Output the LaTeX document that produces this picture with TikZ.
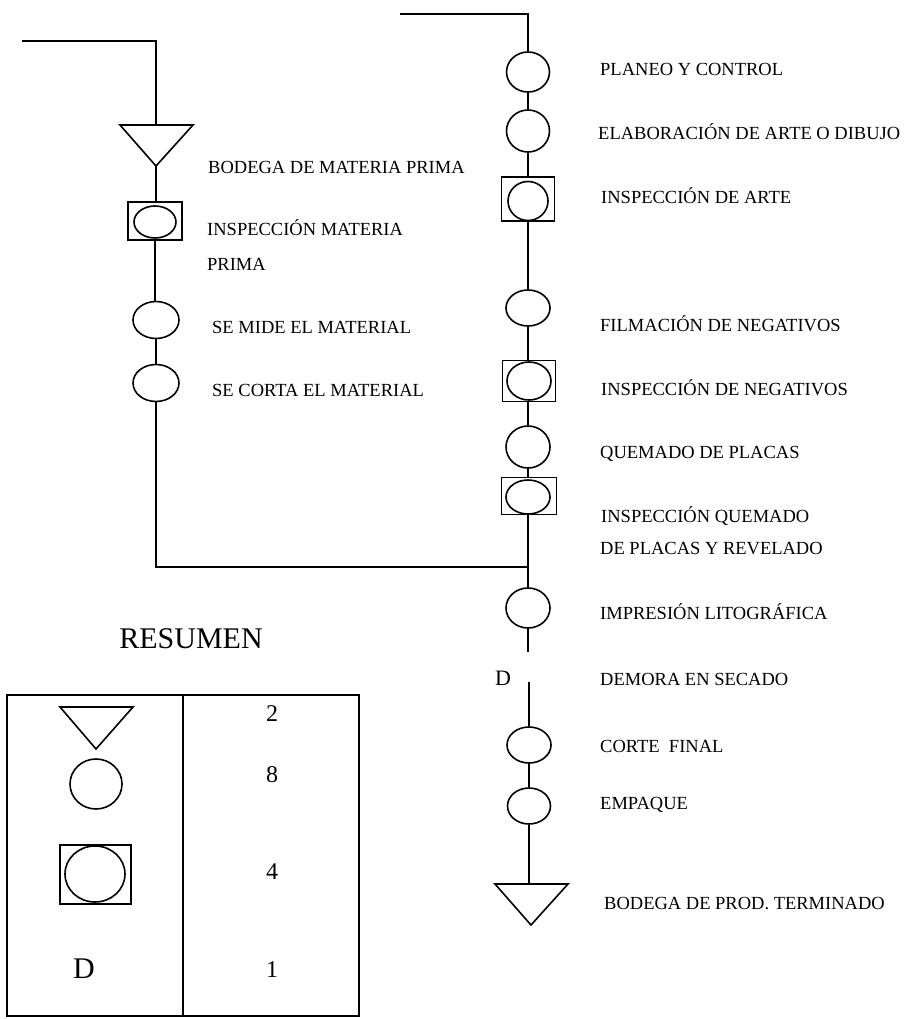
\documentclass[tikz,border=0pt]{standalone}
\usepackage{fontspec}
\setmainfont{Liberation Serif}
\usetikzlibrary{shapes.geometric}

\tikzset{
  op/.style={draw, ellipse, line width=1.6pt, minimum width=44pt, minimum height=38pt, inner sep=0pt},
  insp/.style={draw, rectangle, line width=1.6pt, inner sep=0pt},
  flow/.style={line width=1.9pt},
  shapeline/.style={line width=1.6pt, line join=miter},
  lbl/.style={anchor=base west, inner sep=0pt, font=\fontsize{18.5}{20}\selectfont},
  big/.style={inner sep=0pt, font=\fontsize{30}{32}\selectfont},
  num/.style={inner sep=0pt, font=\fontsize{24}{26}\selectfont},
}

\begin{document}
\begin{tikzpicture}[x=1pt, y=-1pt]
\useasboundingbox (0,0) rectangle (915,1019);

% ---------- left branch: raw material ----------
\coordinate (L0) at (22,41);
\coordinate (L1) at (156,41);
\coordinate (t1top) at (156,125);
\coordinate (t1apex) at (156,166);
\draw[shapeline] (120,125) -- (193,125) -- (t1apex) -- cycle;

\node[insp, minimum width=54pt, minimum height=38pt] (b1) at (155,221) {};
\node[op, minimum width=42pt, minimum height=32pt] (b1c) at (155,222) {};
\node[op, minimum width=46pt, minimum height=37pt] (e1) at (156,320) {};
\node[op, minimum width=46pt, minimum height=37pt] (e2) at (156,383) {};
\coordinate (J) at (528,567);

\draw[flow] (L0) -- (L1) -- (t1top);
\draw[flow] (t1apex) -- (t1apex |- b1.north);
\draw[flow] (b1.south) -- (e1.north -| b1.south);
\draw[flow] (e1.south) -- (e2.north);
\draw[flow] (e2.south) |- (J);

\node[lbl] (l1) at (208,174) {BODEGA DE MATERIA PRIMA};
\node[lbl] (l2) at (207,235) {INSPECCIÓN MATERIA};
\node[lbl] (l3) at (207,270) {PRIMA};
\node[lbl] (l4) at (212,333) {SE MIDE EL MATERIAL};
\node[lbl] (l5) at (212,396) {SE CORTA EL MATERIAL};

% ---------- main line: printing process ----------
\coordinate (R0) at (400,14);
\coordinate (R1) at (528,14);

\node[op, minimum width=43pt, minimum height=40pt] (p1) at (528,72) {};
\node[op, minimum width=43pt, minimum height=42pt] (p2) at (528,131) {};
\node[insp, minimum width=53pt, minimum height=44pt] (p3) at (528,199) {};
\node[op, minimum width=40pt, minimum height=39pt] (p3c) at (528,201) {};
\node[op, minimum width=44pt, minimum height=36pt] (p4) at (528,308) {};
\node[insp, minimum width=53pt, minimum height=41pt] (p5) at (529,381) {};
\node[op, minimum width=44pt, minimum height=38pt] (p5c) at (529,381) {};
\node[op, minimum width=44pt, minimum height=42pt] (p6) at (528,447) {};
\node[insp, minimum width=55pt, minimum height=37pt] (p7) at (529,496) {};
\node[op, minimum width=44pt, minimum height=34pt] (p7c) at (528,497) {};
\node[op, minimum width=44pt, minimum height=40pt] (p8) at (528,608) {};
\node[inner sep=0pt, minimum width=4pt, minimum height=29pt] (p9) at (529,667) {};
\node[big, font=\fontsize{22}{24}\selectfont] (p9d) at (503,678) {D};
\node[op, minimum width=44pt, minimum height=36pt] (p10) at (529,745) {};
\node[op, minimum width=43pt, minimum height=36pt] (p11) at (529,806) {};
\coordinate (t2top) at (531,884);
\coordinate (t2apex) at (531,925);
\draw[shapeline] (495,884) -- (568,884) -- (t2apex) -- cycle;

\draw[flow] (R0) -- (R1) -- (p1.north);
\draw[flow] (p1.south) -- (p2.north);
\draw[flow] (p2.south) -- (p3.north);
\draw[flow] (p3.south) -- (p4.north);
\draw[flow] (p4.south) -- (p5.north -| p4.south);
\draw[flow] (p5.south -| p6.north) -- (p6.north);
\draw[flow] (p6.south) -- (p7.north -| p6.south);
\draw[flow] (p7.south -| J) -- (J) -- (p8.north);
\draw[flow] (p8.south) -- (p9.north -| p8.south);
\draw[flow] (p9.south) -- (p10.north);
\draw[flow] (p10.south) -- (p11.north);
\draw[flow] (p11.south) -- (p11.south |- t2top);

\node[lbl] (r1) at (600,76) {PLANEO Y CONTROL};
\node[lbl] (r2) at (598,140) {ELABORACIÓN DE ARTE O DIBUJO};
\node[lbl] (r3) at (601,203) {INSPECCIÓN DE ARTE};
\node[lbl] (r4) at (600,331) {FILMACIÓN DE NEGATIVOS};
\node[lbl] (r5) at (601,395) {INSPECCIÓN DE NEGATIVOS};
\node[lbl] (r6) at (600,458) {QUEMADO DE PLACAS};
\node[lbl] (r7) at (601,522) {INSPECCIÓN QUEMADO};
\node[lbl] (r8) at (600,554) {DE PLACAS Y REVELADO};
\node[lbl] (r9) at (600,619) {IMPRESIÓN LITOGRÁFICA};
\node[lbl] (r10) at (600,685) {DEMORA EN SECADO};
\node[lbl] (r11) at (600,752) {CORTE\ \ FINAL};
\node[lbl] (r12) at (600,809) {EMPAQUE};
\node[lbl] (r13) at (604,909) {BODEGA DE PROD. TERMINADO};

% ---------- summary table ----------
\node[big] (res) at (191,639) {RESUMEN};
\draw[line width=2pt] (7,695) rectangle (359,1016);
\draw[line width=2pt] (183,695) -- (183,1016);

\draw[shapeline] (60,707) -- (133,707) -- (96,749) -- cycle;
\node[op, minimum width=52pt, minimum height=50pt] (s2) at (96,784) {};
\node[insp, minimum width=71pt, minimum height=59pt] (s3) at (95.5,874.5) {};
\node[op, minimum width=60pt, minimum height=56pt] (s3c) at (95,874) {};
\node[big] (s4) at (84,969) {D};

\node[num] (n1) at (272,714) {2};
\node[num] (n2) at (272,775) {8};
\node[num] (n3) at (272,872) {4};
\node[num] (n4) at (272,970) {1};
\end{tikzpicture}
\end{document}
